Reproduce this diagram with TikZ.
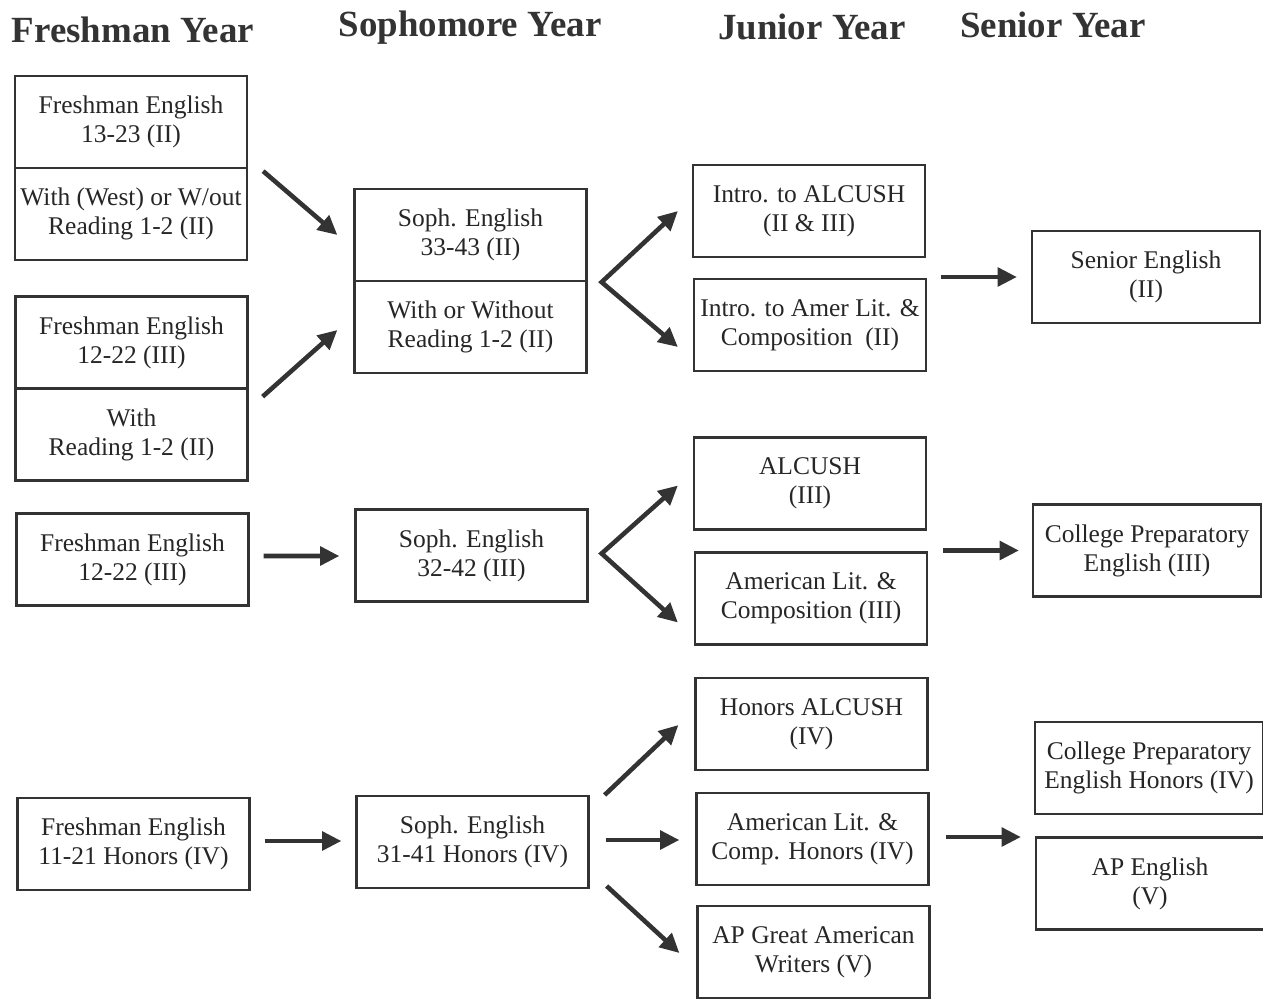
\documentclass[tikz,border=0pt]{standalone}
\usepackage{fontspec}
\setmainfont{Liberation Serif}
\usetikzlibrary{calc,arrows.meta}

\begin{document}
\begin{tikzpicture}[x=0.02cm, y=-0.02cm,
  course/.style={draw=black!80, line width=1.3pt, text=black!85, align=center, minimum width=4.64cm, minimum height=1.84cm, inner sep=0pt, font=\fontsize{14.5}{16.5}\selectfont},
  senior/.style={course, minimum width=4.56cm},
  year/.style={text=black!80, font=\fontsize{21}{25}\selectfont\bfseries},
  flow/.style={draw=black!80, line width=2.6pt, -{Triangle[length=11pt, width=10.5pt]}},
  fork/.style={draw=black!80, line width=2.6pt, {Triangle[length=11pt, width=10.5pt]}-{Triangle[length=11pt, width=10.5pt]}}]
\useasboundingbox (0,0) rectangle (1263,1000);

\node [year] (fy) at (133,30) {Freshman Year};
\node [year] (sy) at (470,28) {Sophomore Year};
\node [year] (jy) at (812,27) {Junior Year};
\node [year] (ny) at (1053,25) {Senior Year};

\node [course] (fa1) at (131,122) {Freshman English\\13-23 (II)};
\node [course] (fa2) at (131,214) {With (West) or W/out\\Reading 1-2 (II)};
\node [course] (fb1) at (131.5,342.5) {Freshman English\\12-22 (III)};
\node [course] (fb2) at (131.5,434.5) {With\\Reading 1-2 (II)};
\node [course] (fc) at (132.5,559.5) {Freshman English\\12-22 (III)};
\node [course] (fd) at (133.5,844) {Freshman English\\11-21 Honors (IV)};

\node [course] (so1) at (470.5,235) {Soph. English\\33-43 (II)};
\node [course] (so2) at (470.5,327) {With or Without\\Reading 1-2 (II)};
\node [course] (sf) at (471.5,555.5) {Soph. English\\32-42 (III)};
\node [course] (sg) at (472.5,842) {Soph. English\\31-41 Honors (IV)};

\node [course] (ja) at (809,211) {Intro. to ALCUSH\\(II \& III)};
\node [course] (jb) at (810,325) {Intro. to Amer Lit. \&\\Composition\ \ (II)};
\node [course] (jc) at (810,483.5) {ALCUSH\\(III)};
\node [course] (jd) at (811,598.5) {American Lit. \&\\Composition (III)};
\node [course] (je) at (811.5,724) {Honors ALCUSH\\(IV)};
\node [course] (jf) at (812.5,839) {American Lit. \&\\Comp. Honors (IV)};
\node [course] (jg) at (813.5,952) {AP Great American\\Writers (V)};

\node [senior] (na) at (1146,277) {Senior English\\(II)};
\node [senior] (nb) at (1147,550.5) {College Preparatory\\English (III)};
\node [senior] (nc) at (1149,768) {College Preparatory\\English Honors (IV)};
\node [senior] (nd) at (1150,883.5) {AP English\\(V)};

\draw [flow] ($(fa1.south east)+(15,2)$) -- ($(so1.west)+(-16,0)$);
\draw [flow] ($(fb1.south east)+(14,7)$) -- ($(so2.west)+(-16,3)$);
\draw [flow] ($(fc.east)+(14,-3.5)$) -- ($(sf.west)+(-15,0.5)$);
\draw [flow] ($(fd.east)+(14,-3)$) -- ($(sg.west)+(-14,-1)$);

\draw [fork] ($(ja.west)+(-14,0)$) -- ($(so1.south east)+(14,0)$) -- ($(jb.west)+(-15,22)$);
\draw [fork] ($(jc.west)+(-15,2)$) -- ($(sf.east)+(13,-2)$) -- ($(jd.west)+(-16,24)$);
\draw [flow] ($(sg.east)+(15,-47)$) -- ($(je.west)+(-16,1)$);
\draw [flow] ($(sg.east)+(16,-2)$) -- ($(jf.west)+(-16,1)$);
\draw [flow] ($(sg.east)+(17,44)$) -- ($(jg.west)+(-17,1)$);

\draw [flow] ($(jb.east)+(14,-48)$) -- ($(na.west)+(-14,0)$);
\draw [flow] ($(jd.east)+(15,-48)$) -- ($(nb.west)+(-13,0)$);
\draw [flow] ($(jf.east)+(16,-2)$) -- ($(nd.west)+(-14,-46.5)$);

\end{tikzpicture}
\end{document}
